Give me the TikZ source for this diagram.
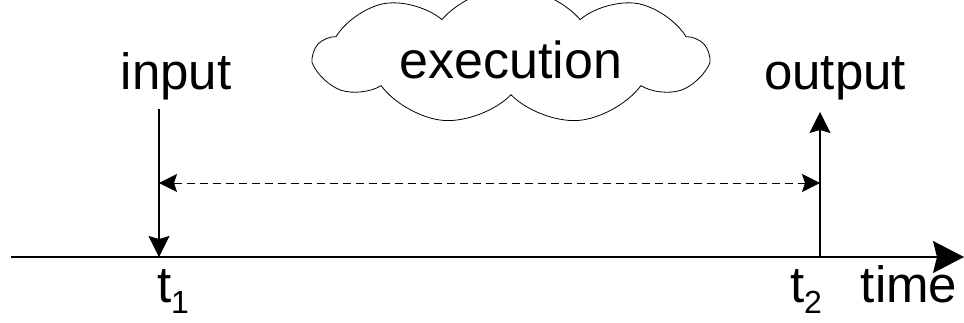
\documentclass[tikz,border=0pt]{standalone}
\usepackage{fontspec}
\setmainfont{Liberation Sans}
\usetikzlibrary{shapes.symbols}
\usetikzlibrary{arrows.meta}

\begin{document}
\begin{tikzpicture}[x=1pt, y=-1pt]
	\tikzset{
		lbl/.style={font=\fontsize{51}{60}\selectfont, inner sep=0pt, anchor=base},
		cloudnode/.style={cloud, draw=black, thick, cloud puffs=9, cloud puff arc=100, aspect=3.4, minimum width=392pt, minimum height=118pt, inner sep=0pt, text height=46pt, font=\fontsize{52}{60}\selectfont},
		evarrow/.style={line width=1.2pt, -{Stealth[length=21pt, width=21pt, inset=3pt]}},
		spanarrow/.style={line width=1pt, dash pattern=on 8pt off 5pt, {Stealth[length=18pt, width=18pt, inset=3pt]}-{Stealth[length=18pt, width=18pt, inset=3pt]}},
	}
	\useasboundingbox (0,0) rectangle (964,322);

	% time axis
	\coordinate (origin) at (11,257);
	\coordinate (axisend) at (964,257);
	\draw[line width=1.2pt, -{Stealth[length=31pt, width=32pt, inset=4pt]}] (origin) -- (axisend);

	% events
	\coordinate (t1) at (159,257);
	\coordinate (t2) at (820,257);
	\coordinate (instart) at (159,109);
	\coordinate (outend) at (820,112);
	\node[lbl] (input) at (176,89) {input};
	\node[lbl] (output) at (835,89) {output};
	\node[cloudnode] (exec) at (511,56) {execution};

	\draw[evarrow] (instart) -- (t1);
	\draw[evarrow] (t2) -- (outend);

	% execution span
	\coordinate (spanl) at (159,183);
	\coordinate (spanr) at (820,183);
	\draw[spanarrow] (spanl) -- (spanr);

	% tick labels
	\node[lbl] (lt1) at (173,302) {t\raisebox{-11pt}{\fontsize{32}{32}\selectfont 1}};
	\node[lbl] (lt2) at (806,302) {t\raisebox{-11pt}{\fontsize{32}{32}\selectfont 2}};
	\node[lbl] (ltime) at (909,302) {time};
\end{tikzpicture}
\end{document}
